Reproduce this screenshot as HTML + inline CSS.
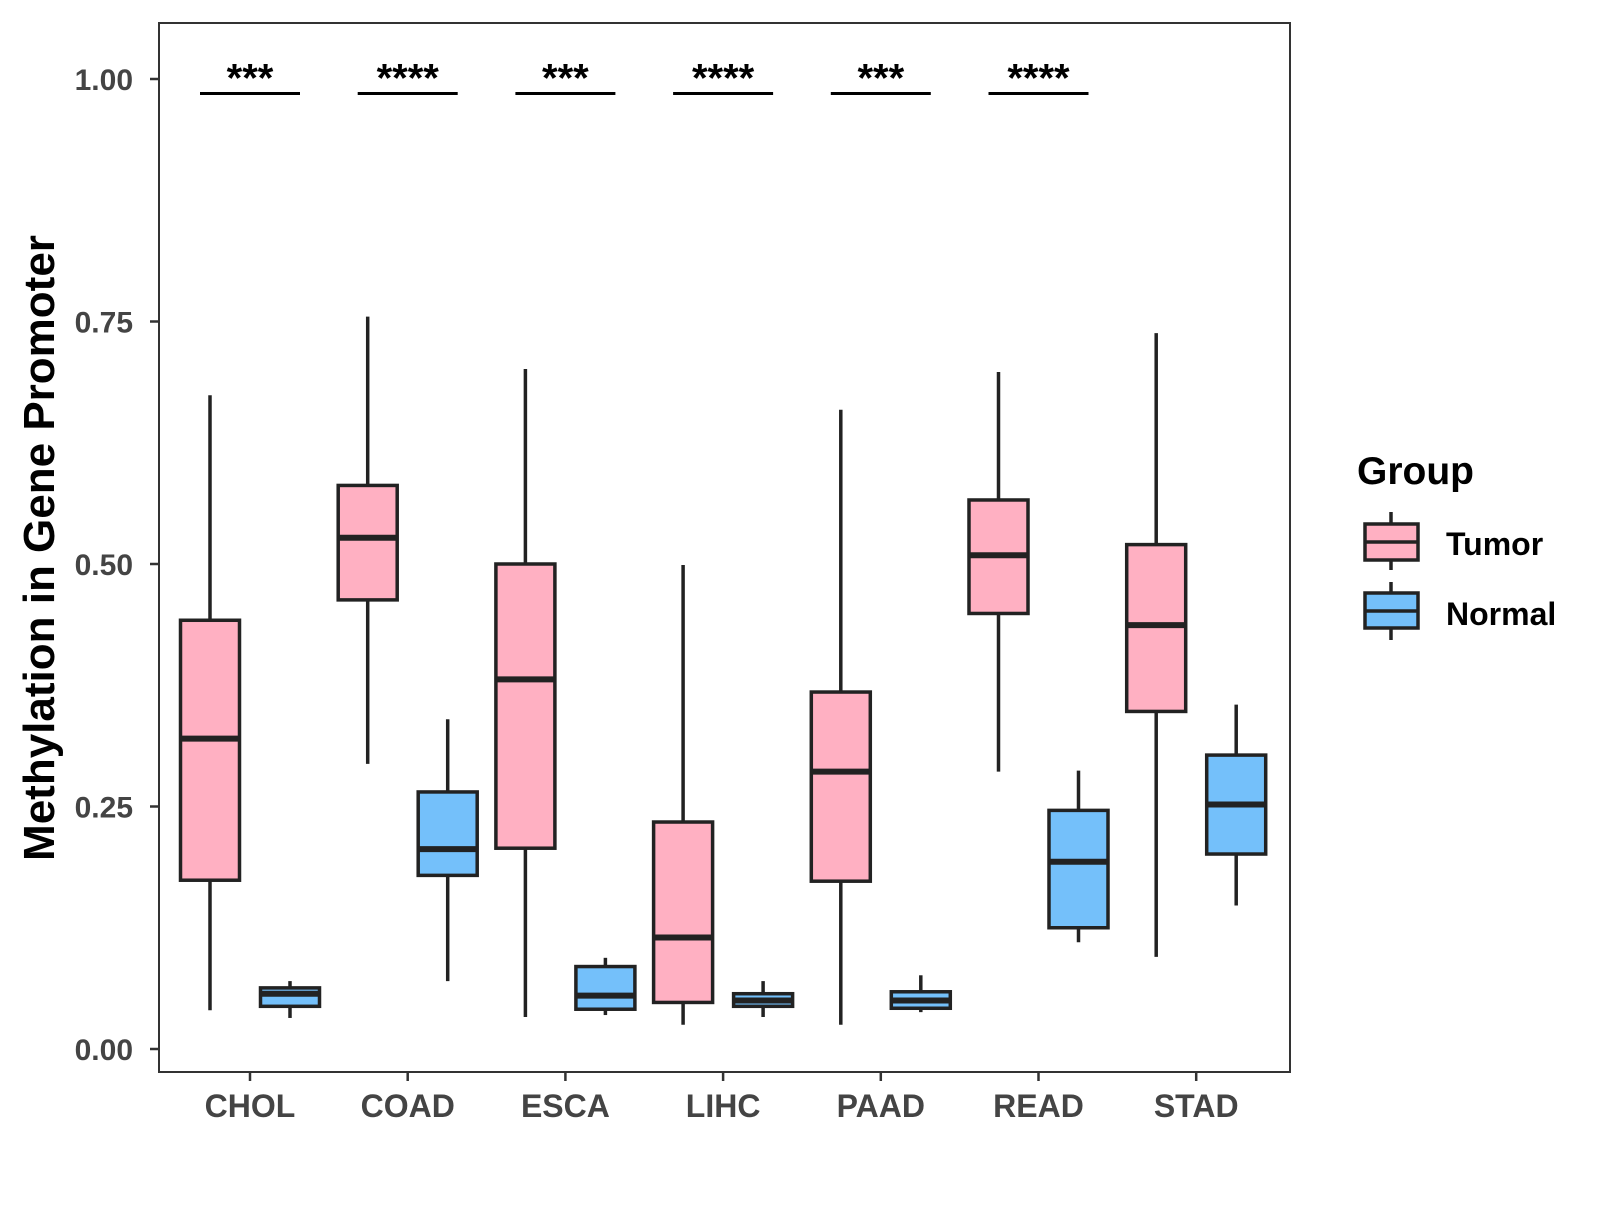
<!DOCTYPE html>
<html><head><meta charset="utf-8"><style>
html,body{margin:0;padding:0;background:#fff;}
svg text{font-family:"Liberation Sans",Arial,sans-serif;font-weight:bold;}
</style></head><body>
<svg id="chart" width="1600" height="1200" viewBox="0 0 1600 1200" xmlns="http://www.w3.org/2000/svg">
<rect x="0" y="0" width="1600" height="1200" fill="#fff"/>
<g id="marks"></g>
<rect x="159" y="23" width="1131" height="1049" fill="none" stroke="#333" stroke-width="2"/>
<g id="axes"></g>
<text transform="translate(54,548) rotate(-90)" text-anchor="middle" font-size="44" fill="#000">Methylation in Gene Promoter</text>
<g>
<text x="1357" y="484" font-size="39" fill="#000">Group</text>
<g>
<line x1="1391" y1="512" x2="1391" y2="570" stroke="#222" stroke-width="3.5"/>
<rect x="1365" y="524" width="53" height="36" fill="#FFB0C2" stroke="#222" stroke-width="3.5"/>
<line x1="1365" y1="542" x2="1418" y2="542" stroke="#222" stroke-width="3.5"/>
<text x="1446" y="555" font-size="32" fill="#000">Tumor</text>
</g>
<g>
<line x1="1391" y1="582" x2="1391" y2="640" stroke="#222" stroke-width="3.5"/>
<rect x="1365" y="593" width="53" height="35" fill="#74C0FA" stroke="#222" stroke-width="3.5"/>
<line x1="1365" y1="611" x2="1418" y2="611" stroke="#222" stroke-width="3.5"/>
<text x="1446" y="625" font-size="32" fill="#000">Normal</text>
</g>
</g>
</svg>
<script>
const categories = ["CHOL","COAD","ESCA","LIHC","PAAD","READ","STAD"];
// [low whisker, Q1, median, Q3, high whisker]
const tumorStats = [
 [0.040,0.174,0.320,0.442,0.674],
 [0.294,0.463,0.527,0.581,0.755],
 [0.033,0.207,0.381,0.500,0.701],
 [0.025,0.048,0.115,0.234,0.499],
 [0.025,0.173,0.286,0.368,0.659],
 [0.286,0.449,0.509,0.566,0.698],
 [0.095,0.348,0.437,0.520,0.738]
];
const normalStats = [
 [0.032,0.044,0.057,0.063,0.070],
 [0.070,0.179,0.206,0.265,0.340],
 [0.035,0.041,0.055,0.085,0.094],
 [0.033,0.044,0.050,0.057,0.070],
 [0.038,0.042,0.050,0.059,0.076],
 [0.110,0.125,0.193,0.246,0.287],
 [0.148,0.201,0.252,0.303,0.355]
];
const signifLabels = ["***","****","***","****","***","****",""];
const signifLevel = [0.985,0.985,0.985,0.985,0.985,0.985,null];
const yTicks = [0,0.25,0.5,0.75,1.0];
const yTickLabels = ["0.00","0.25","0.50","0.75","1.00"];

const NS="http://www.w3.org/2000/svg";
function y(v){return 1049-970*v;}
function x(i){return 250+i*157.7;}
function mk(tag,attrs,parent){const e=document.createElementNS(NS,tag);for(const k in attrs)e.setAttribute(k,attrs[k]);parent.appendChild(e);return e;}
const marks=document.getElementById('marks');
const axes=document.getElementById('axes');
const bw=59, off=40;
function drawBox(i,s,dx,fill,grp){
  const cx=x(i)+dx;
  const g=mk('g',{},marks);
  
  
  mk('line',{x1:cx,y1:y(s[4]),x2:cx,y2:y(s[0]),stroke:'#222','stroke-width':3.5},g);
  mk('rect',{x:cx-bw/2,y:y(s[3]),width:bw,height:y(s[1])-y(s[3]),fill:fill,stroke:'#222','stroke-width':3.5},g);
  mk('line',{x1:cx-bw/2,y1:y(s[2]),x2:cx+bw/2,y2:y(s[2]),stroke:'#222','stroke-width':6},g);
}
categories.forEach((c,i)=>{
  drawBox(i,tumorStats[i],-off,'#FFB0C2','tumor');
  drawBox(i,normalStats[i],off,'#74C0FA','normal');
  if(signifLevel[i]!==null){
    const g=mk('g',{},marks);
    
    
    mk('line',{x1:x(i)-50,y1:y(signifLevel[i]),x2:x(i)+50,y2:y(signifLevel[i]),stroke:'#000','stroke-width':3},g);
    const t=mk('text',{x:x(i),y:y(signifLevel[i])-2,'text-anchor':'middle','font-size':40,fill:'#000'},g);
    t.textContent=signifLabels[i];
  }
  const tk=mk('line',{x1:x(i),y1:1072,x2:x(i),y2:1081,stroke:'#333','stroke-width':2.5},axes);
  
  
  const tl=mk('text',{x:x(i),y:1117,'text-anchor':'middle','font-size':32,fill:'#444'},axes);
  
  
  tl.textContent=c;
});
yTicks.forEach((v,i)=>{
  const tk=mk('line',{x1:150,y1:y(v),x2:159,y2:y(v),stroke:'#333','stroke-width':2.5},axes);
  
  
  const tl=mk('text',{x:133,y:y(v)+11,'text-anchor':'end','font-size':30,fill:'#444'},axes);
  
  
  tl.textContent=yTickLabels[i];
});
</script>
</body></html>
